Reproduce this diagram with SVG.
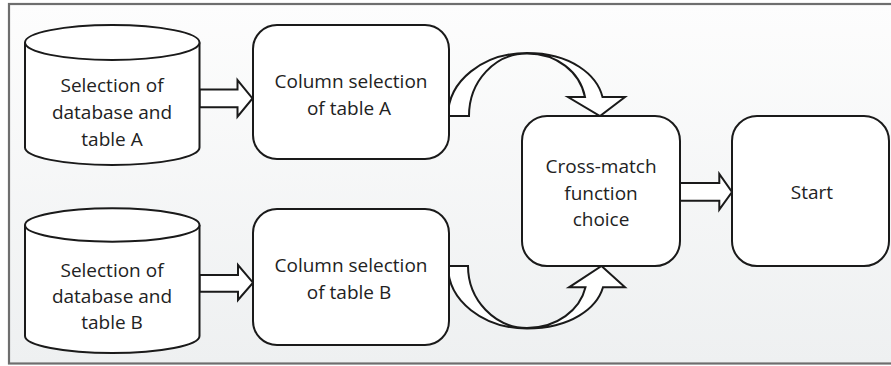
<svg xmlns="http://www.w3.org/2000/svg" width="891" height="366" viewBox="0 0 891 366">
  <defs>
    <linearGradient id="bg" x1="0" y1="0" x2="0" y2="1">
      <stop offset="0" stop-color="#fdfdfd"/>
      <stop offset="1" stop-color="#eef0f1"/>
    </linearGradient>
    <style>
      .shape { fill: #ffffff; stroke: #1a1a1a; stroke-width: 2; stroke-linejoin: round; }
      .conn { fill: #ffffff; stroke: #1a1a1a; stroke-width: 2; stroke-linejoin: miter; }
      .label { font-family: "Open Sans", "Noto Sans", "Liberation Sans", sans-serif; font-size: 19px; fill: #222222; text-anchor: middle; }
    </style>
  </defs>

  <rect x="0" y="0" width="891" height="366" fill="#ffffff"/>
  <rect id="frame" x="9" y="4" width="890" height="359.5" fill="url(#bg)" stroke="#6e6e6e" stroke-width="2.2"/>

  <g id="connectors">
    <path class="conn" d="M199.5,89.5 H237.5 V80 L252.5,98.4 L237.5,116.7 V107.3 H199.5 Z"/>
    <path class="conn" d="M199.5,275 H238 V265 L253,282.7 L238,300 V291.7 H199.5 Z"/>
    <path class="conn" d="M680,183 H719.3 V174 L732,192 L719.3,209.7 V200.7 H680 Z"/>
    <path class="conn" d="M448,116 C448,81 483,53 527,53 C571,53 597,75 602.5,97 L625,97 L600,116 L568,97 L585,97 C580,72 557,53.5 527,53.5 C495,53.5 469,81 469,116 Z"/>
    <path class="conn" d="M448,266 C448,300.5 483,328.5 527,328.5 C571,328.5 597,308 603,287.3 L625,287.3 L601.5,266 L569,287.3 L585.5,287.3 C580,310 557,328 527,328 C495,328 468,300 468,266 Z"/>
  </g>

  <g id="dbA">
    <path class="shape" d="M25,42.5 V147.5 A87.25,17.5 0 0 0 199.5,147.5 V42.5"/>
    <ellipse class="shape" cx="112.25" cy="42.5" rx="87.25" ry="17.5"/>
    <text class="label" x="112" y="92">Selection of</text>
    <text class="label" x="112" y="119">database and</text>
    <text class="label" x="112" y="146">table A</text>
  </g>

  <g id="dbB">
    <path class="shape" d="M25,225 V336 A87.25,17 0 0 0 199.5,336 V225"/>
    <ellipse class="shape" cx="112.25" cy="225" rx="87.25" ry="16.7"/>
    <text class="label" x="112" y="277">Selection of</text>
    <text class="label" x="112" y="303">database and</text>
    <text class="label" x="112" y="329">table B</text>
  </g>

  <g id="colA">
    <rect class="shape" x="253" y="25" width="196" height="134" rx="24" ry="24"/>
    <text class="label" x="351" y="88">Column selection</text>
    <text class="label" x="349" y="115">of table A</text>
  </g>

  <g id="colB">
    <rect class="shape" x="253" y="209" width="196" height="136" rx="24" ry="24"/>
    <text class="label" x="351" y="272">Column selection</text>
    <text class="label" x="349" y="299">of table B</text>
  </g>

  <g id="crossmatch">
    <rect class="shape" x="522" y="116" width="158" height="150" rx="25" ry="25"/>
    <text class="label" x="601" y="173">Cross-match</text>
    <text class="label" x="601" y="199.5">function</text>
    <text class="label" x="601" y="226">choice</text>
  </g>

  <g id="start">
    <rect class="shape" x="732" y="116" width="157" height="150" rx="25" ry="25"/>
    <text class="label" x="812" y="199">Start</text>
  </g>
</svg>
